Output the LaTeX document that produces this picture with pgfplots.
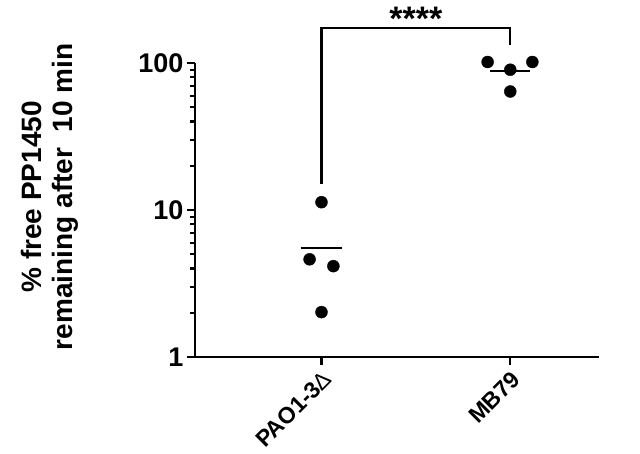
\documentclass[border=0pt]{standalone}
\usepackage{pgfplots}
\pgfplotsset{compat=1.18}
\usepackage{fontspec}
\setmainfont{Liberation Sans}
\begin{document}
\begin{tikzpicture}[x=1pt,y=1pt]
\path[use as bounding box] (0,0) rectangle (640,453);
\begin{axis}[
 at={(195pt,96pt)}, anchor=south west,
 scale only axis, width=404pt, height=294pt,
 ymode=log, ymin=1, ymax=100,
 xmin=-0.67, xmax=1.47,
 axis x line*=bottom, axis y line*=left,
 axis line style={line width=2.6pt},
 xtick={0,1}, xticklabels={PAO1-3{\normalfont ∆}, MB79},
 x tick label style={rotate=45, anchor=north east, font=\bfseries\fontsize{23}{27}\selectfont},
 ytick={1,10,100}, yticklabels={1,10,100},
 y tick label style={font=\bfseries\fontsize{27}{30}\selectfont},
 /pgf/number format/assume math mode=true,
 tick style={line width=2.2pt, black},
 major tick length=8pt, minor tick length=5pt,
 tick align=outside,
 clip=false,
 ylabel={\% free PP1450\\remaining after\ \ 10 min},
 ylabel style={at={(axis description cs:-0.36,0.545)}, anchor=center, align=center, font=\bfseries\fontsize{28}{31}\selectfont},
]
\addplot[only marks, mark=*, mark size=6pt, black] coordinates {(0,11.3) (-0.063,4.62) (0.063,4.15) (0,2.02)};
\addplot[only marks, mark=*, mark size=6pt, black] coordinates {(0.88,101.6) (1,90) (1.117,101.6) (1,64)};
\addplot[black, line width=2.4pt] coordinates {(-0.11,5.52) (0.11,5.52)};
\addplot[black, line width=2.4pt] coordinates {(0.894,88.5) (1.106,88.5)};
\addplot[black, line width=2.4pt] coordinates {(0,15.07) (0,173.4) (1,173.4) (1,133.4)};
\node[font=\bfseries\fontsize{34}{36}\selectfont] at (axis cs:0.5,200) {****};
\end{axis}
\end{tikzpicture}
\end{document}
